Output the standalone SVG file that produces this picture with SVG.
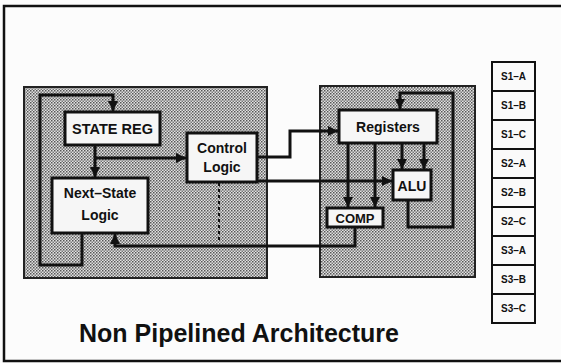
<svg xmlns="http://www.w3.org/2000/svg" width="561" height="363" viewBox="0 0 561 363">
<defs>
<pattern id="dots" width="3" height="3" patternUnits="userSpaceOnUse">
<rect width="3" height="3" fill="#e2e2e2"/>
<rect x="0" y="0" width="1.5" height="1.5" fill="#555"/>
<rect x="1.5" y="1.5" width="1.5" height="1.5" fill="#777"/>
</pattern>
<marker id="arr" markerUnits="userSpaceOnUse" markerWidth="10" markerHeight="10" viewBox="0 0 10 10" refX="10" refY="5" orient="auto">
<path d="M0,0 L10,5 L0,10 z" fill="#111"/>
</marker>
</defs>
<style>
.area{fill:url(#dots);stroke:#222;stroke-width:2}
.node{fill:#f6f6f6;stroke:#111;stroke-width:3}
.lbl{font-family:"Liberation Sans",Arial,sans-serif;font-weight:bold;fill:#111;text-anchor:middle}
.wire{fill:none;stroke:#111;stroke-width:3;stroke-linejoin:miter}
.cell{fill:#fafafa;stroke:#111;stroke-width:2}
.s{font-family:"Liberation Sans",Arial,sans-serif;font-weight:bold;font-size:10px;fill:#111;text-anchor:middle}
</style>
<rect x="0" y="0" width="561" height="363" fill="#fcfcfc"/>
<rect x="4" y="6" width="620" height="355" fill="none" stroke="#111" stroke-width="2.5"/>
<g id="control-unit"><rect class="area" x="24" y="87" width="243" height="191"/></g>
<g id="datapath"><rect class="area" x="320" y="86" width="155" height="191"/></g>
<g id="connectors">
<path class="wire" d="M82,233 V265 H40 V95 H113 V111" marker-end="url(#arr)"/>
<path class="wire" d="M95,145 V177" marker-end="url(#arr)"/>
<path class="wire" d="M95,158 H186" marker-end="url(#arr)"/>
<path class="wire" d="M257,157 H290 V131 H338" marker-end="url(#arr)"/>
<path class="wire" d="M257,181 H392" marker-end="url(#arr)"/>
<path d="M219,183 V243" fill="none" stroke="#111" stroke-width="2" stroke-dasharray="3,3"/>
<path class="wire" d="M355,227 V246 H115 V234" marker-end="url(#arr)"/>
<path class="wire" d="M348,143 V207" marker-end="url(#arr)"/>
<path class="wire" d="M375,143 V207" marker-end="url(#arr)"/>
<path class="wire" d="M402,143 V169" marker-end="url(#arr)"/>
<path class="wire" d="M424,143 V169" marker-end="url(#arr)"/>
<path class="wire" d="M408,200 V227 H453 V93 H400 V109" marker-end="url(#arr)"/>
</g>
<g id="state-reg"><rect class="node" x="65" y="112" width="95" height="33"/><text class="lbl" x="112.5" y="134" font-size="14.5">STATE REG</text></g>
<g id="control-logic"><rect class="node" x="187" y="133" width="70" height="49"/><text class="lbl" x="222" y="153" font-size="14">Control</text><text class="lbl" x="222" y="172" font-size="14">Logic</text></g>
<g id="next-state-logic"><rect class="node" x="52" y="178" width="96" height="55"/><text class="lbl" x="100" y="198" font-size="14">Next–State</text><text class="lbl" x="100" y="220" font-size="14">Logic</text></g>
<g id="registers"><rect class="node" x="339" y="110" width="98" height="33"/><text class="lbl" x="388" y="132" font-size="14">Registers</text></g>
<g id="alu"><rect class="node" x="393" y="170" width="38" height="30"/><text class="lbl" x="412" y="191" font-size="14">ALU</text></g>
<g id="comp"><rect class="node" x="327" y="208" width="56" height="19"/><text class="lbl" x="355" y="223" font-size="13">COMP</text></g>
<g id="stages">
<rect class="cell" x="492" y="62" width="43" height="29"/><text class="s" x="513.5" y="80">S1–A</text>
<rect class="cell" x="492" y="91" width="43" height="29"/><text class="s" x="513.5" y="109">S1–B</text>
<rect class="cell" x="492" y="120" width="43" height="29"/><text class="s" x="513.5" y="138">S1–C</text>
<rect class="cell" x="492" y="149" width="43" height="29"/><text class="s" x="513.5" y="167">S2–A</text>
<rect class="cell" x="492" y="178" width="43" height="29"/><text class="s" x="513.5" y="196">S2–B</text>
<rect class="cell" x="492" y="207" width="43" height="29"/><text class="s" x="513.5" y="225">S2–C</text>
<rect class="cell" x="492" y="236" width="43" height="29"/><text class="s" x="513.5" y="254">S3–A</text>
<rect class="cell" x="492" y="265" width="43" height="29"/><text class="s" x="513.5" y="283">S3–B</text>
<rect class="cell" x="492" y="294" width="43" height="29"/><text class="s" x="513.5" y="312">S3–C</text>
</g>
<text class="lbl" x="239" y="342" font-size="25">Non Pipelined Architecture</text>
</svg>
